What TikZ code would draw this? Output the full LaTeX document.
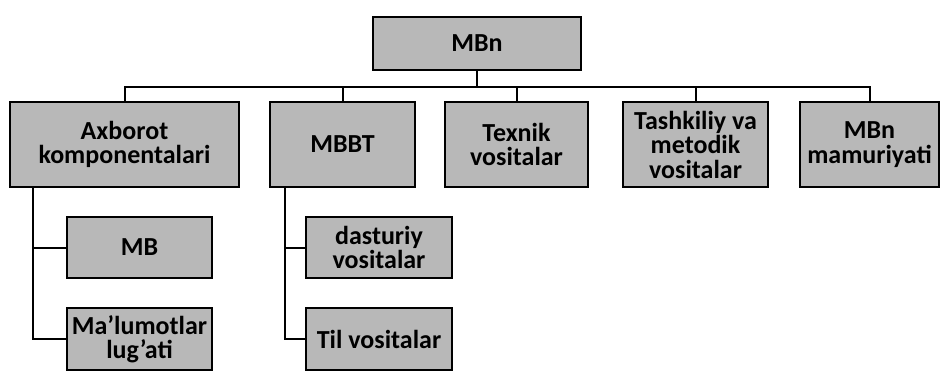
\documentclass[tikz,border=0pt]{standalone}
\usepackage{fontspec}
\setmainfont{Carlito}
\begin{document}
\begin{tikzpicture}[x=1pt,y=-1pt,
  box/.style={draw=black, line width=2.2pt, fill=black!28, align=center,
    inner sep=0pt, font=\fontsize{26}{24.5}\selectfont\bfseries},
  link/.style={draw=black, line width=2pt}]
\useasboundingbox (0,0) rectangle (941,371);

% top level
\node[box, minimum width=208pt, minimum height=53pt] (root) at (477,43.5) {MBn};

% second level
\node[box, minimum width=229pt, minimum height=85pt] (ax)   at (124.5,144.5) {Axborot\\komponentalari};
\node[box, minimum width=145pt, minimum height=85pt] (mbbt) at (342.5,144.5) {MBBT};
\node[box, minimum width=143pt, minimum height=85pt] (tex)  at (516.5,144.5) {Texnik\\vositalar};
\node[box, minimum width=145pt, minimum height=85pt] (tash) at (695.5,144.5) {Tashkiliy va\\metodik\\vositalar};
\node[box, minimum width=139pt, minimum height=85pt] (mam)  at (869.5,144.5) {MBn\\mamuriyati};

% third level
\node[box, minimum width=145pt, minimum height=61pt] (mb)   at (139.5,247.5) {MB};
\node[box, minimum width=145pt, minimum height=62pt] (lug)  at (139.5,339) {Ma'lumotlar\\lug'ati};
\node[box, minimum width=146pt, minimum height=61pt] (dast) at (379,247.5) {dasturiy\\vositalar};
\node[box, minimum width=146pt, minimum height=62pt] (til)  at (379,339) {Til vositalar};

% connectors
\coordinate (bus) at (0,87);
\coordinate (trunkA) at (33,0);
\coordinate (trunkB) at (285,0);
\foreach \c in {ax,mbbt,tex,tash,mam}
  \draw[link] (root.south) -- (root.south |- bus) -| (\c.north);
\draw[link] (ax.south -| trunkA) |- (mb.west);
\draw[link] (ax.south -| trunkA) |- (lug.west);
\draw[link] (mbbt.south -| trunkB) |- (dast.west);
\draw[link] (mbbt.south -| trunkB) |- (til.west);
\end{tikzpicture}
\end{document}
